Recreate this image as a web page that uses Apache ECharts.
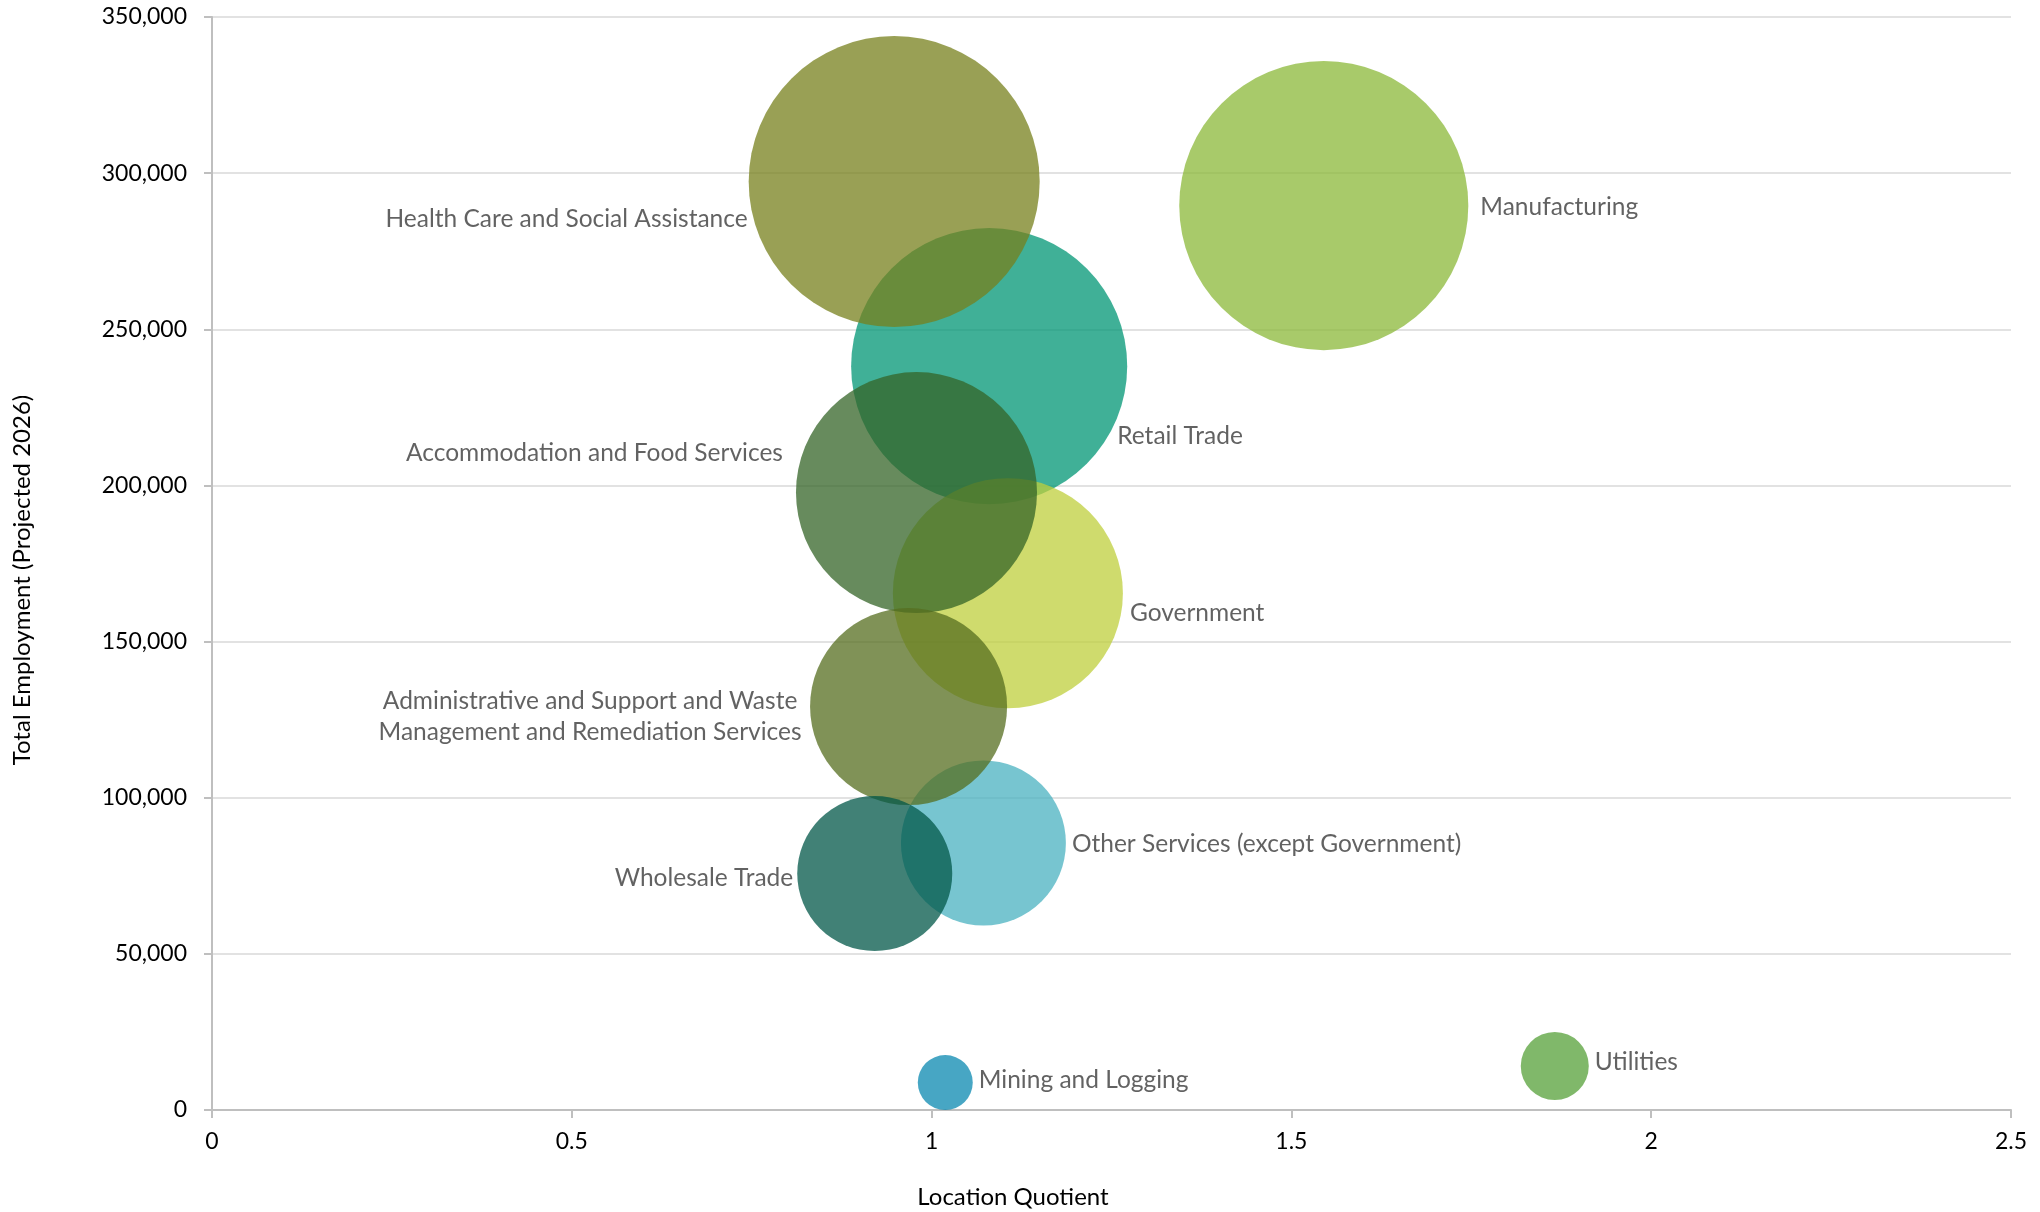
<!DOCTYPE html>
<html>
<head>
<meta charset="utf-8">
<script src="https://cdn.jsdelivr.net/npm/echarts@6/dist/echarts.min.js"></script>
<style>
html,body{margin:0;padding:0;background:#fff;}
#chart{width:2040px;height:1212px;}
</style>
</head>
<body>
<div id="chart"></div>
<script>
// ---- data ----
const industries = [
  'Retail Trade',
  'Manufacturing',
  'Health Care and Social Assistance',
  'Government',
  'Accommodation and Food Services',
  'Other Services (except Government)',
  'Administrative and Support and Waste\nManagement and Remediation Services',
  'Wholesale Trade',
  'Mining and Logging',
  'Utilities'
];
const locationQuotient = [1.080, 1.545, 0.948, 1.106, 0.979, 1.072, 0.968, 0.921, 1.019, 1.866];
const employment2026   = [238200, 289600, 297300, 165500, 197700, 85500, 129200, 75700, 8800, 14100];
const bubbleSize       = [270000, 296000, 300000, 187500, 205800, 96400, 137500, 85100, 10700, 16400];
const xTicks = [0, 0.5, 1, 1.5, 2, 2.5];
const yTicks = [0, 50000, 100000, 150000, 200000, 250000, 300000, 350000];

// ---- styles (kept separate from data) ----
const colors = ['#009674', '#8BB838', '#77801C', '#BFCF3C', '#346427', '#4AB2C0', '#556E1F', '#025748', '#0A88B0', '#55A038'];
const labelLayoutCfg = [
  {position: 'right', distance: 0,  dx: -10,  dy: 70},
  {position: 'right', distance: 12, dx: 0,    dy: 1},
  {position: 'left',  distance: 1,  dx: 0,    dy: 38},
  {position: 'right', distance: 7,  dx: 0,    dy: 20},
  {position: 'left',  distance: 13, dx: 0,    dy: -40},
  {position: 'right', distance: 6,  dx: 0,    dy: 1},
  {position: 'left',  distance: 6,  dx: -214, dy: 10, align: 'center'},
  {position: 'left',  distance: 4,  dx: 0,    dy: 4},
  {position: 'right', distance: 6,  dx: 0,    dy: -2},
  {position: 'right', distance: 6,  dx: 0,    dy: -4}
];
const FONT = 'Lato, "Open Sans", sans-serif';
const MAX_DIAMETER = 291;
const maxSize = Math.max(...bubbleSize);

const seriesData = industries.map((name, i) => {
  const lab = {
    show: true,
    formatter: name,
    position: labelLayoutCfg[i].position,
    distance: labelLayoutCfg[i].distance
  };
  if (labelLayoutCfg[i].align) lab.align = labelLayoutCfg[i].align;
  return {
    name: name,
    value: [locationQuotient[i], employment2026[i], bubbleSize[i]],
    itemStyle: {color: colors[i], opacity: 0.75},
    label: lab
  };
});

const chart = echarts.init(document.getElementById('chart'), null, {renderer: 'canvas'});
chart.setOption({
  animation: false,
  backgroundColor: '#ffffff',
  grid: {left: 212, right: 29, top: 17, bottom: 102, containLabel: false},
  xAxis: {
    type: 'value',
    min: xTicks[0], max: xTicks[xTicks.length - 1], interval: 0.5,
    axisLine: {show: true, lineStyle: {color: '#BFBFBF', width: 2}},
    axisTick: {show: true, length: 8, lineStyle: {color: '#BFBFBF', width: 2}},
    splitLine: {show: false},
    axisLabel: {color: '#000000', fontSize: 23, fontFamily: FONT, margin: 20,
      formatter: v => String(v)}
  },
  yAxis: {
    type: 'value',
    min: yTicks[0], max: yTicks[yTicks.length - 1], interval: 50000,
    axisLine: {show: true, lineStyle: {color: '#BFBFBF', width: 2}},
    axisTick: {show: true, length: 8, lineStyle: {color: '#BFBFBF', width: 2}},
    splitLine: {show: true, lineStyle: {color: '#D9D9D9', width: 1.5}},
    axisLabel: {color: '#000000', fontSize: 23, fontFamily: FONT, margin: 25,
      formatter: v => v.toLocaleString('en-US')}
  },
  graphic: [
    {type: 'text', x: 1013, y: 1197,
      style: {text: 'Location Quotient', font: '24px ' + FONT, fill: '#000000', align: 'center', verticalAlign: 'middle'}},
    {type: 'text', x: 22, y: 580, rotation: Math.PI / 2,
      style: {text: 'Total Employment (Projected 2026)', font: '24px ' + FONT, fill: '#000000', align: 'center', verticalAlign: 'middle'}}
  ],
  series: [{
    type: 'scatter',
    symbol: 'circle',
    symbolSize: val => MAX_DIAMETER * Math.sqrt(val[2] / maxSize),
    data: seriesData,
    label: {color: '#2E2E2E', fontSize: 24.5, fontFamily: FONT, lineHeight: 31},
    emphasis: {disabled: true},
    labelLayout: params => ({
      dx: labelLayoutCfg[params.dataIndex].dx,
      dy: labelLayoutCfg[params.dataIndex].dy,
      hideOverlap: false
    })
  }]
});
</script>
</body>
</html>
